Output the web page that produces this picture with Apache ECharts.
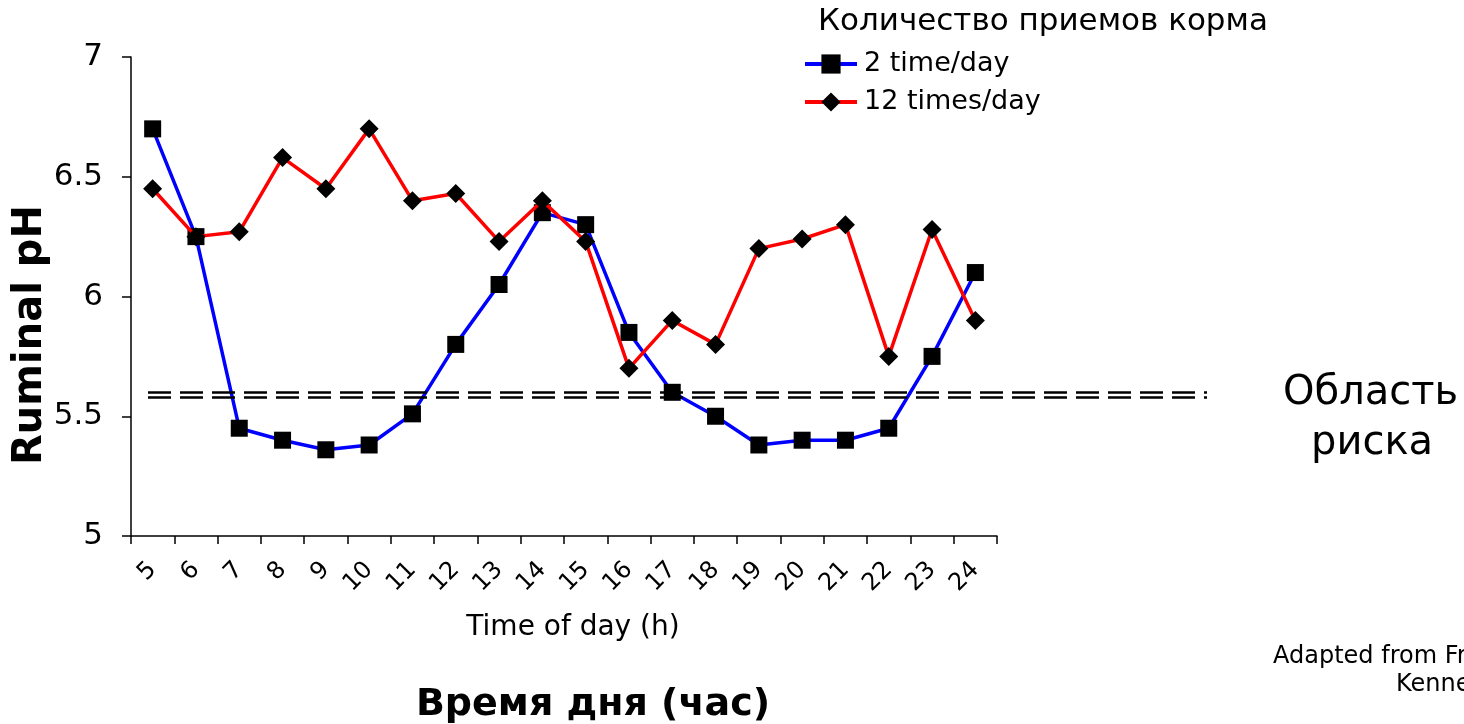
<!DOCTYPE html>
<html>
<head>
<meta charset="utf-8">
<script src="https://cdn.jsdelivr.net/npm/echarts@6/dist/echarts.min.js"></script>
<style>
  html, body { margin: 0; padding: 0; background: #fff; overflow: hidden; }
  #chart { width: 1464px; height: 724px; }
</style>
</head>
<body>
<div id="chart"></div>
<script>
// Hour of day (categories on the x axis)
const hours = ['5','6','7','8','9','10','11','12','13','14','15','16','17','18','19','20','21','22','23','24'];

// Ruminal pH for cows fed twice a day
const twoPerDay = [6.70, 6.25, 5.45, 5.40, 5.36, 5.38, 5.51, 5.80, 6.05, 6.35,
                   6.30, 5.85, 5.60, 5.50, 5.38, 5.40, 5.40, 5.45, 5.75, 6.10];

// Ruminal pH for cows fed twelve times a day
const twelvePerDay = [6.45, 6.25, 6.27, 6.58, 6.45, 6.70, 6.40, 6.43, 6.23, 6.40,
                      6.23, 5.70, 5.90, 5.80, 6.20, 6.24, 6.30, 5.75, 6.28, 5.90];

// Y axis tick values and labels
const yTicks = [5, 5.5, 6, 6.5, 7];
const yTickLabels = ['5', '5.5', '6', '6.5', '7'];

// The two strokes of the double dashed risk threshold
const riskLevels = [5.603, 5.580];

const seriesNames = ['2 time/day', '12 times/day'];

const FONT = '"DejaVu Sans", Verdana, sans-serif';

const chart = echarts.init(document.getElementById('chart'), null, { renderer: 'canvas' });

const option = {
  animation: false,
  backgroundColor: '#ffffff',
  textStyle: { fontFamily: FONT, color: '#000' },
  title: {
    text: 'Количество приемов корма',
    left: 818,
    top: 5,
    padding: 0,
    textStyle: { fontFamily: FONT, fontSize: 31, fontWeight: 'normal', color: '#000', lineHeight: 34 }
  },
  legend: {
    orient: 'vertical',
    left: 798,
    top: 44,
    itemWidth: 52,
    itemHeight: 24,
    itemGap: 8,
    data: seriesNames,
    lineStyle: { width: 4 },
    textStyle: { fontFamily: FONT, fontSize: 27, color: '#000', lineHeight: 30, padding: [0, 0, 0, 2] }
  },
  grid: { left: 131, right: 467, top: 57, bottom: 188, containLabel: false, outerBoundsMode: 'none' },
  xAxis: {
    type: 'category',
    data: hours,
    boundaryGap: true,
    axisLine: { lineStyle: { color: '#000', width: 1.5 } },
    axisTick: { show: true, interval: 0, length: 8, lineStyle: { color: '#000', width: 1.5 } },
    axisLabel: { interval: 0, rotate: 45, margin: 30, fontFamily: FONT, fontSize: 24, color: '#000' },
    splitLine: { show: false }
  },
  yAxis: {
    type: 'value',
    min: yTicks[0],
    max: yTicks[yTicks.length - 1],
    interval: 0.5,
    axisLine: { show: true, lineStyle: { color: '#000', width: 1.5 } },
    axisTick: { show: true, length: 9, lineStyle: { color: '#000', width: 1.5 } },
    axisLabel: {
      margin: 28,
      fontFamily: FONT,
      fontSize: 31,
      color: '#000',
      formatter: v => {
        const i = yTicks.findIndex(t => Math.abs(t - v) < 1e-9);
        return i >= 0 ? yTickLabels[i] : '';
      }
    },
    splitLine: { show: false }
  },
  series: [
    {
      name: seriesNames[0],
      type: 'line',
      data: twoPerDay,
      symbol: 'rect',
      symbolSize: 17,
      lineStyle: { color: '#0000ff', width: 3.5 },
      itemStyle: { color: '#000000' },
      z: 3
    },
    {
      name: seriesNames[1],
      type: 'line',
      data: twelvePerDay,
      symbol: 'diamond',
      symbolSize: 19,
      lineStyle: { color: '#ff0000', width: 3.5 },
      itemStyle: { color: '#000000' },
      z: 4
    }
  ],
  graphic: [
    {
      type: 'text',
      x: 31,
      y: 335,
      rotation: Math.PI / 2,
      style: { text: 'Ruminal pH', font: 'bold 40px ' + FONT, fill: '#000', align: 'center', verticalAlign: 'middle' }
    },
    {
      type: 'text',
      x: 573,
      y: 628,
      style: { text: 'Time of day (h)', font: '28px ' + FONT, fill: '#000', align: 'center', verticalAlign: 'middle' }
    },
    {
      type: 'text',
      x: 1283,
      y: 394,
      style: { text: 'Область', font: '40px ' + FONT, fill: '#000', verticalAlign: 'middle' }
    },
    {
      type: 'text',
      x: 1311,
      y: 444,
      style: { text: 'риска', font: '40px ' + FONT, fill: '#000', verticalAlign: 'middle' }
    },
    {
      type: 'text',
      x: 1273,
      y: 657,
      style: { text: 'Adapted from French and', font: '24px ' + FONT, fill: '#000', verticalAlign: 'middle' }
    },
    {
      type: 'text',
      x: 1396,
      y: 685,
      style: { text: 'Kennelly, 1990', font: '24px ' + FONT, fill: '#000', verticalAlign: 'middle' }
    },
    {
      type: 'text',
      x: 593,
      y: 705,
      style: { text: 'Время дня (час)', font: 'bold 38px ' + FONT, fill: '#000', align: 'center', verticalAlign: 'middle' }
    }
  ]
};

chart.setOption(option);

// Double dashed threshold, placed on the pH scale and run past the plot to the label
const riskLines = riskLevels.map(level => {
  const y = Math.round(chart.convertToPixel({ yAxisIndex: 0 }, level)) + 0.5;
  return {
    type: 'line',
    z: 5,
    shape: { x1: 148, y1: y, x2: 1207, y2: y },
    style: { stroke: '#000', lineWidth: 2.5, lineDash: [23, 9] }
  };
});
chart.setOption({ graphic: option.graphic.concat(riskLines) });
</script>
</body>
</html>
